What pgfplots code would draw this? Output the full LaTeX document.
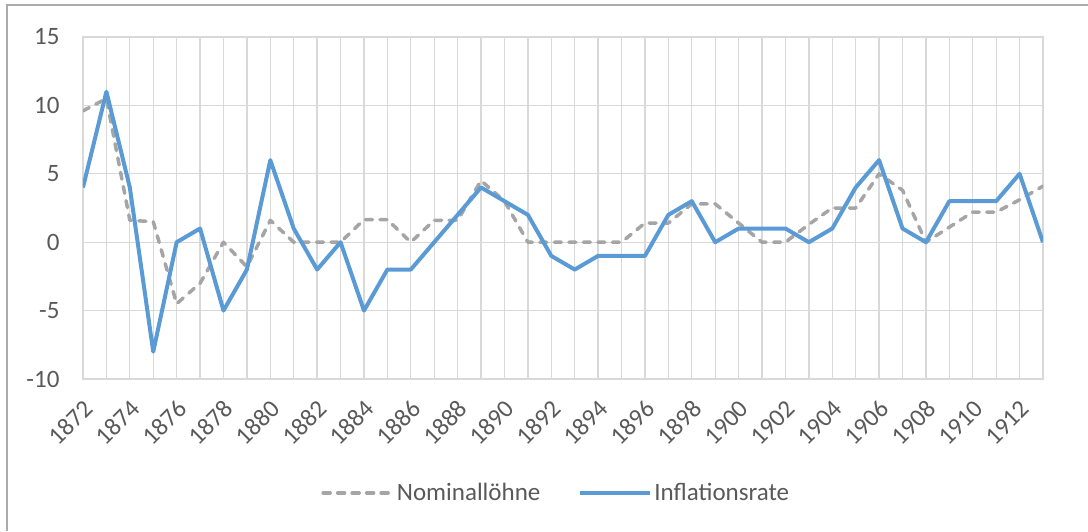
\documentclass[border=0pt]{standalone}
\usepackage{pgfplots}
\pgfplotsset{compat=1.18}
\usepackage{fontspec}
\setmainfont{Carlito}
\definecolor{gridc}{HTML}{D9D9D9}
\definecolor{txt}{HTML}{595959}
\definecolor{blueL}{HTML}{5B9BD5}
\definecolor{grayL}{HTML}{A5A5A5}
\definecolor{framec}{HTML}{ABABAB}
\newcommand{\yl}[1]{\rule{0pt}{30pt}#1\hspace*{14pt}}
\begin{document}
\begin{tikzpicture}
\useasboundingbox (0pt,0pt) rectangle (1088pt,531pt);
\draw[framec, line width=1.5pt] (7pt,0pt) -- (7pt,526pt) -- (1088pt,526pt);
\begin{axis}[
 at={(83pt,152pt)}, anchor=south west,
 scale only axis, width=960pt, height=342pt,
 xmin=1872, xmax=1913, ymin=-10, ymax=15,
 xtick={1872,1874,...,1912}, minor xtick={1873,1875,...,1913},
 ytick={-10,-5,...,15},
 grid=both,
 grid style={gridc, line width=1.3pt},
 major grid style={gridc, line width=1.3pt},
 minor grid style={gridc, line width=1.3pt},
 axis line style={gridc, line width=1.3pt},
 major tick length=0pt, minor tick length=0pt,
 /pgf/number format/assume math mode=true,
 /pgf/number format/1000 sep=,
 yticklabel style={font=\fontsize{25}{29}\selectfont, text=txt, xshift=-20pt},
 xticklabels={\yl{1872},\yl{1874},\yl{1876},\yl{1878},\yl{1880},\yl{1882},\yl{1884},\yl{1886},\yl{1888},\yl{1890},\yl{1892},\yl{1894},\yl{1896},\yl{1898},\yl{1900},\yl{1902},\yl{1904},\yl{1906},\yl{1908},\yl{1910},\yl{1912}},
 xticklabel style={font=\fontsize{25}{29}\selectfont, text=txt, rotate=45, anchor=north east, inner sep=0pt},
 legend style={at={(0.493,-0.333)}, anchor=center, draw=none, fill=none,
   font=\fontsize{25}{29}\selectfont, text=txt,
   /tikz/every even column/.append style={column sep=36pt}},
 legend columns=2,
 legend image code/.code={\draw[#1] (0pt,0pt) -- (70pt,0pt);},
]
\addplot[grayL, line width=3.5pt, dash pattern=on 7pt off 7.5pt, line cap=round, line join=round] coordinates {
(1872,9.6) (1873,10.5) (1874,1.6) (1875,1.5) (1876,-4.5) (1877,-3.0) (1878,0) (1879,-1.8)
(1880,1.6) (1881,0) (1882,0) (1883,0) (1884,1.65) (1885,1.65) (1886,0) (1887,1.6)
(1888,1.6) (1889,4.5) (1890,3.0) (1891,0) (1892,0) (1893,0) (1894,0) (1895,0)
(1896,1.4) (1897,1.4) (1898,2.8) (1899,2.8) (1900,1.4) (1901,0) (1902,0) (1903,1.3)
(1904,2.5) (1905,2.5) (1906,5) (1907,3.8) (1908,0) (1909,1.1) (1910,2.2) (1911,2.2)
(1912,3.1) (1913,4.1)};
\addlegendentry{Nominallöhne}
\addplot[blueL, line width=4pt, line join=round] coordinates {
(1872,4) (1873,11) (1874,4) (1875,-8) (1876,0) (1877,1) (1878,-5) (1879,-2)
(1880,6) (1881,1) (1882,-2) (1883,0) (1884,-5) (1885,-2) (1886,-2) (1887,0)
(1888,2) (1889,4) (1890,3) (1891,2) (1892,-1) (1893,-2) (1894,-1) (1895,-1)
(1896,-1) (1897,2) (1898,3) (1899,0) (1900,1) (1901,1) (1902,1) (1903,0)
(1904,1) (1905,4) (1906,6) (1907,1) (1908,0) (1909,3) (1910,3) (1911,3)
(1912,5) (1913,0)};
\addlegendentry{Inflationsrate}
\end{axis}
\end{tikzpicture}
\end{document}
